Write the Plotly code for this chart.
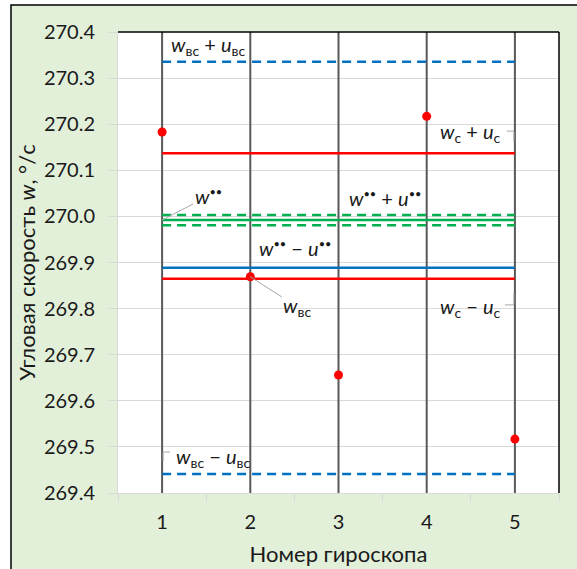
import plotly.graph_objects as go

# Gyroscope numbers and measured angular rates, deg/s
gyro = [1, 2, 3, 4, 5]
omega = [270.183, 269.869, 269.656, 270.217, 269.517]

# Weighted estimates and their uncertainties
w_vs = sum(omega) / len(omega)
u_vs = 0.447
w_c = 270.001
u_c = 0.136
w_ss = 269.992
u_ss = 0.011

y_min, y_max = 269.4, 270.4
y_ticks = [269.4, 269.5, 269.6, 269.7, 269.8, 269.9, 270.0, 270.1, 270.2, 270.3, 270.4]

FONT = "Lato"
TXT = "#1a1a1a"
BLUE = "#0070C0"
RED = "#FF0000"
GREEN = "#00B050"
GREY = "#595959"
LEAD = "#A6A6A6"

fig = go.Figure()

# vertical guide line through each gyroscope
vx, vy = [], []
for g in gyro:
    vx += [g, g, None]
    vy += [y_min, y_max, None]
fig.add_trace(go.Scatter(x=vx, y=vy, mode="lines",
                         line=dict(color=GREY, width=2), hoverinfo="skip"))

x_span = [gyro[0], gyro[-1]]


def hline(v, color, dash=None, width=2.5):
    fig.add_trace(go.Scatter(x=x_span, y=[v, v], mode="lines",
                             line=dict(color=color, width=width, dash=dash)))


DASH = "9px,6px"
hline(w_vs + u_vs, BLUE, DASH)
hline(w_vs - u_vs, BLUE, DASH)
hline(w_ss + u_ss, GREEN, DASH)
hline(w_ss - u_ss, GREEN, DASH)
hline(w_ss, GREEN)
hline(w_vs, BLUE)
hline(w_c + u_c, RED)
hline(w_c - u_c, RED)

# individual measurements
fig.add_trace(go.Scatter(x=gyro, y=omega, mode="markers",
                         marker=dict(color=RED, size=9, line=dict(width=0))))

lab_font = dict(family=FONT, size=20, color=TXT)


def label(x, y, text, **kw):
    fig.add_annotation(x=x, y=y, xref="x", yref="y", text=text,
                       showarrow=False, font=lab_font, **kw)


sub = lambda s: f"<sub>{s}</sub>"
ss = "<sup><span style='font-size:11px'>••</span></sup>"

label(1.52, 270.370, f"<i>w</i>{sub('вс')} + <i>u</i>{sub('вс')}")
label(1.58, 269.476, f"<i>w</i>{sub('вс')} − <i>u</i>{sub('вс')}")
label(4.50, 270.181, f"<i>w</i>{sub('с')} + <i>u</i>{sub('с')}")
label(4.50, 269.803, f"<i>w</i>{sub('с')} − <i>u</i>{sub('с')}")
label(3.53, 270.040, f"<i>w</i>{ss} + <i>u</i>{ss}")
label(2.51, 269.931, f"<i>w</i>{ss} − <i>u</i>{ss}")

# labels connected by leader lines
fig.add_annotation(x=gyro[0], y=w_ss, xref="x", yref="y",
                   text=f"<i>w</i>{ss}", font=lab_font,
                   showarrow=True, arrowhead=0, arrowwidth=1, arrowcolor=LEAD,
                   ax=46, ay=-24)
fig.add_annotation(x=gyro[1], y=omega[1], xref="x", yref="y",
                   text=f"<i>w</i>{sub('вс')}", font=lab_font,
                   showarrow=True, arrowhead=0, arrowwidth=1, arrowcolor=LEAD,
                   ax=47, ay=30)

# small leader stubs beside the labels
stubs = [
    [(4.909, 270.185), (4.989, 270.185), (4.989, 270.161)],
    [(4.989, 269.834), (4.989, 269.808), (4.887, 269.808)],
    [(1.091, 269.489), (1.011, 269.489), (1.011, 269.469)],
]
shapes = []
# chart area background with frame
pw, ph = 441.0, 461.0
shapes.append(dict(type="rect", xref="paper", yref="paper",
                   x0=(11 - 118) / pw, x1=(600 - 118) / pw,
                   y0=(493 - 600) / ph, y1=(493 - 5) / ph,
                   fillcolor="#E2EFD9", line=dict(color="black", width=1.5),
                   layer="below"))
shapes.append(dict(type="rect", xref="paper", yref="paper", x0=0, x1=1, y0=0, y1=1,
                   fillcolor="white", line=dict(width=0), layer="below"))
shapes.append(dict(type="line", xref="paper", yref="paper", x0=0, x1=1, y0=1, y1=1,
                   line=dict(color="black", width=1.5), layer="above"))
shapes.append(dict(type="line", xref="paper", yref="paper", x0=1, x1=1, y0=0, y1=1,
                   line=dict(color="black", width=1.5), layer="above"))
for pts in stubs:
    path = "M " + " L ".join(f"{a},{b}" for a, b in pts)
    shapes.append(dict(type="path", xref="x", yref="y", path=path,
                       line=dict(color=LEAD, width=1)))

bounds = [g - 0.5 for g in gyro] + [gyro[-1] + 0.5]

fig.update_layout(
    width=577, height=569,
    margin=dict(l=118, r=18, t=32, b=76),
    paper_bgcolor="white",
    plot_bgcolor="rgba(0,0,0,0)",
    showlegend=False,
    shapes=shapes,
    font=dict(family=FONT, size=20, color=TXT),
    xaxis=dict(
        range=[bounds[0], bounds[-1]], automargin=False,
        tickmode="array", tickvals=gyro, ticktext=[str(g) for g in gyro],
        ticks="", showgrid=False, zeroline=False,
        showline=True, linecolor="#D9D9D9", linewidth=1,
        ticklabelstandoff=11,
        minor=dict(tickmode="array", tickvals=bounds, ticks="outside",
                   ticklen=7, tickcolor="#D9D9D9", tickwidth=1, showgrid=False),
        title=dict(text="Номер гироскопа", font=dict(family=FONT, size=22, color=TXT),
                   standoff=14),
        tickfont=dict(family=FONT, size=20, color=TXT),
    ),
    yaxis=dict(
        range=[y_min, y_max], automargin=False,
        tickmode="array", tickvals=y_ticks,
        ticktext=[f"{v:.1f}" for v in y_ticks],
        ticks="outside", ticklen=8, tickcolor="#D9D9D9", tickwidth=1,
        showgrid=True, gridcolor="#D9D9D9", gridwidth=1, zeroline=False,
        showline=True, linecolor="#D9D9D9", linewidth=1,
        ticklabelstandoff=10,
        title=dict(text="Угловая скорость <i>w</i>, °/с",
                   font=dict(family=FONT, size=22, color=TXT), standoff=2),
        tickfont=dict(family=FONT, size=20, color=TXT),
    ),
)

fig.write_html("out.html")
